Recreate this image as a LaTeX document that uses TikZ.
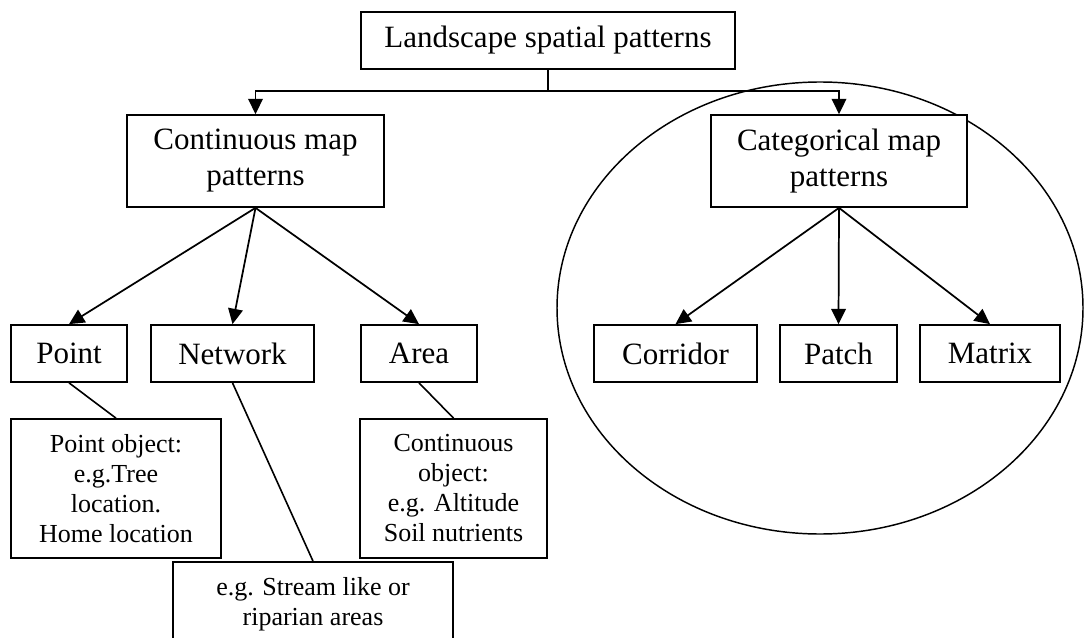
\documentclass[tikz,border=0pt]{standalone}
\usepackage{fontspec}
\setmainfont{Liberation Serif}
\usetikzlibrary{arrows.meta}
\tikzset{
  boxbig/.style={draw, line width=1.3pt, fill=white, inner sep=0pt, align=center,
    font=\fontsize{23.25pt}{27pt}\selectfont, minimum height=42.75pt},
  boxsmall/.style={draw, line width=1.3pt, fill=white, inner sep=0pt, align=center,
    font=\fontsize{19.5pt}{22.5pt}\selectfont},
  conn/.style={line width=1.2pt},
  arr/.style={line width=1.3pt, -{Triangle[length=11.5pt,width=11pt]}},
}
\begin{document}
\begin{tikzpicture}[x=0.75pt, y=-0.75pt]
\clip (0,0) rectangle (1084,638);
\fill[white] (0,0) rectangle (1084,638);
% ellipse around categorical part
\draw[line width=1.1pt] (820,308) ellipse [x radius=197.25pt, y radius=169.5pt];
% nodes
\node[boxbig, minimum width=280.5pt] (land) at (548,40.5) {Landscape spatial patterns};
\node[boxbig, minimum width=192.75pt, minimum height=69pt] (cont) at (255.5,161) {Continuous map\\patterns};
\node[boxbig, minimum width=192pt, minimum height=69pt] (cat) at (839,161) {Categorical map\\patterns};
\node[boxbig, minimum width=87pt] (point) at (69,353.5) {Point};
\node[boxbig, minimum width=122.25pt] (net) at (232.5,353.5) {Network};
\node[boxbig, minimum width=87pt] (area) at (419,353.5) {Area};
\node[boxbig, minimum width=122.25pt] (corr) at (675.5,353.5) {Corridor};
\node[boxbig, minimum width=87.75pt] (patch) at (838.5,353.5) {Patch};
\node[boxbig, minimum width=105pt] (matrix) at (990,353.5) {Matrix};
\node[boxsmall, minimum width=157.5pt, minimum height=104.25pt] (pobj) at (116,488.5) {Point object:\\e.g.Tree\\location.\\Home location};
\node[boxsmall, minimum width=140.25pt, minimum height=104.25pt] (cobj) at (453.5,488.5) {Continuous\\object:\\e.g. Altitude\\Soil nutrients};
\node[boxsmall, minimum width=210pt, minimum height=63pt] (stream) at (313,604) {e.g. Stream like or\\riparian areas};
% top connectors
\coordinate (j) at (548,91);
\draw[conn] (land.south) -- (j);
\draw[arr] (j) -| (cont.north);
\draw[arr] (j) -| (cat.north);
% fans
\draw[arr] (cont.south) -- (point.north);
\draw[arr] (cont.south) -- (net.north);
\draw[arr] (cont.south) -- (area.north);
\draw[arr] (cat.south) -- (corr.north);
\draw[arr] (cat.south) -- (patch.north);
\draw[arr] (cat.south) -- (matrix.north);
% lower lines
\draw[conn] (point.south) -- (pobj.north);
\draw[conn] (net.south) -- (stream.north);
\draw[conn] (area.south) -- (cobj.north);
\end{tikzpicture}
\end{document}
